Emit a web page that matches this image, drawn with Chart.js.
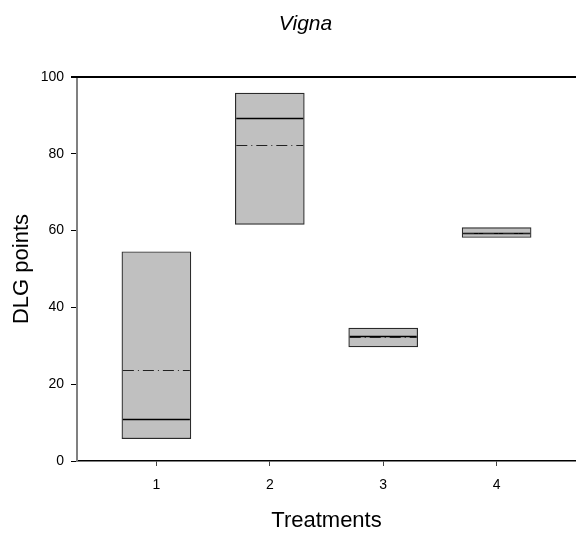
<!DOCTYPE html>
<html>
<head>
<meta charset="utf-8">
<script src="https://cdn.jsdelivr.net/npm/chart.js@4/dist/chart.umd.min.js"></script>
<style>
  html, body { margin: 0; padding: 0; background: #fff; overflow: hidden; }
  #wrap { width: 576px; height: 536px; }
</style>
</head>
<body>
<div id="wrap"><canvas id="c" width="576" height="536"></canvas></div>
<script>
// Treatment groups and box statistics (DLG points)
const treatments = [1, 2, 3, 4];
const lowerQuartile = [5.8, 61.6, 29.7, 58.2];
const upperQuartile = [54.5, 95.8, 34.6, 60.8];
const medians = [11.0, 89.4, 32.5, 59.4];
const means = [23.8, 82.2, 32.3, 59.3];
const yTicks = [0, 20, 40, 60, 80, 100];
const xTickLabels = ['1', '2', '3', '4'];

const FONT = '"Liberation Sans", Arial, Helvetica, sans-serif';

// Title text and frame line along the top of the plot
const framePlugin = {
  id: 'frame',
  beforeDatasetsDraw(chart) {
    const { ctx, chartArea } = chart;
    ctx.save();
    ctx.strokeStyle = '#000';
    ctx.lineWidth = 2;
    ctx.beginPath();
    ctx.moveTo(chartArea.left - 6, chartArea.top);
    ctx.lineTo(chartArea.right, chartArea.top);
    ctx.stroke();
    ctx.restore();
  },
  afterDraw(chart) {
    const { ctx } = chart;
    ctx.save();
    ctx.fillStyle = '#000';
    ctx.font = 'italic 21px ' + FONT;
    ctx.textAlign = 'center';
    ctx.textBaseline = 'alphabetic';
    ctx.fillText('Vigna', 305.5, 30);
    ctx.restore();
  }
};

// Median (solid) and mean (dashed) lines across each box
const boxLinesPlugin = {
  id: 'boxLines',
  afterDatasetsDraw(chart) {
    const { ctx } = chart;
    const y = chart.scales.y;
    const meta = chart.getDatasetMeta(0);
    ctx.save();
    meta.data.forEach((bar, i) => {
      const half = bar.width / 2;
      const x0 = bar.x - half + 1;
      const x1 = bar.x + half - 1;
      const ym = Math.round(y.getPixelForValue(medians[i])) + 0.5;
      ctx.setLineDash([]);
      ctx.strokeStyle = '#000';
      ctx.lineWidth = 1.3;
      ctx.beginPath();
      ctx.moveTo(x0, ym);
      ctx.lineTo(x1, ym);
      ctx.stroke();

      const ya = Math.round(y.getPixelForValue(means[i])) + 0.5;
      ctx.setLineDash([11, 4, 1, 4]);
      ctx.strokeStyle = '#222';
      ctx.lineWidth = 1.2;
      ctx.beginPath();
      ctx.moveTo(x0, ya);
      ctx.lineTo(x1, ya);
      ctx.stroke();
    });
    ctx.restore();
  }
};

new Chart(document.getElementById('c'), {
  type: 'bar',
  data: {
    datasets: [{
      data: treatments.map((t, i) => ({ x: t, y: [lowerQuartile[i], upperQuartile[i]] })),
      backgroundColor: '#c0c0c0',
      borderColor: '#2a2a2a',
      borderWidth: 1.2,
      borderSkipped: false,
      barThickness: 69
    }]
  },
  options: {
    responsive: false,
    animation: false,
    devicePixelRatio: 1,
    layout: { padding: { top: 77, left: 0, right: 0, bottom: 0 } },
    plugins: {
      legend: { display: false },
      tooltip: { enabled: false },
      title: { display: false }
    },
    scales: {
      x: {
        type: 'linear',
        offset: false,
        min: 0.3,
        max: 4.7,
        afterFit(scale) { scale.height = 75; },
        afterBuildTicks(scale) { scale.ticks = treatments.map(v => ({ value: v })); },
        ticks: {
          color: '#000',
          font: { family: FONT, size: 14 },
          padding: 11,
          maxRotation: 0,
          autoSkip: false,
          callback: (v) => xTickLabels[treatments.indexOf(v)]
        },
        grid: {
          display: true,
          offset: false,
          drawOnChartArea: false,
          drawTicks: true,
          tickLength: 5,
          tickColor: '#444',
          tickWidth: 1
        },
        border: { display: true, color: '#000', width: 1.6 },
        title: {
          display: true,
          text: 'Treatments',
          color: '#000',
          font: { family: FONT, size: 22 },
          padding: { top: 0, bottom: 2 }
        }
      },
      y: {
        min: 0,
        max: 100,
        afterFit(scale) { scale.width = 77; },
        afterBuildTicks(scale) { scale.ticks = yTicks.map(v => ({ value: v })); },
        ticks: {
          color: '#000',
          font: { family: FONT, size: 14 },
          padding: 7
        },
        grid: {
          display: true,
          drawOnChartArea: false,
          drawTicks: true,
          tickLength: 6,
          tickColor: '#000',
          tickWidth: 1
        },
        border: { display: true, color: '#808080', width: 2 },
        title: {
          display: true,
          text: 'DLG points',
          color: '#000',
          font: { family: FONT, size: 22 },
          padding: { top: 9, bottom: 0 }
        }
      }
    }
  },
  plugins: [framePlugin, boxLinesPlugin]
});
</script>
</body>
</html>
